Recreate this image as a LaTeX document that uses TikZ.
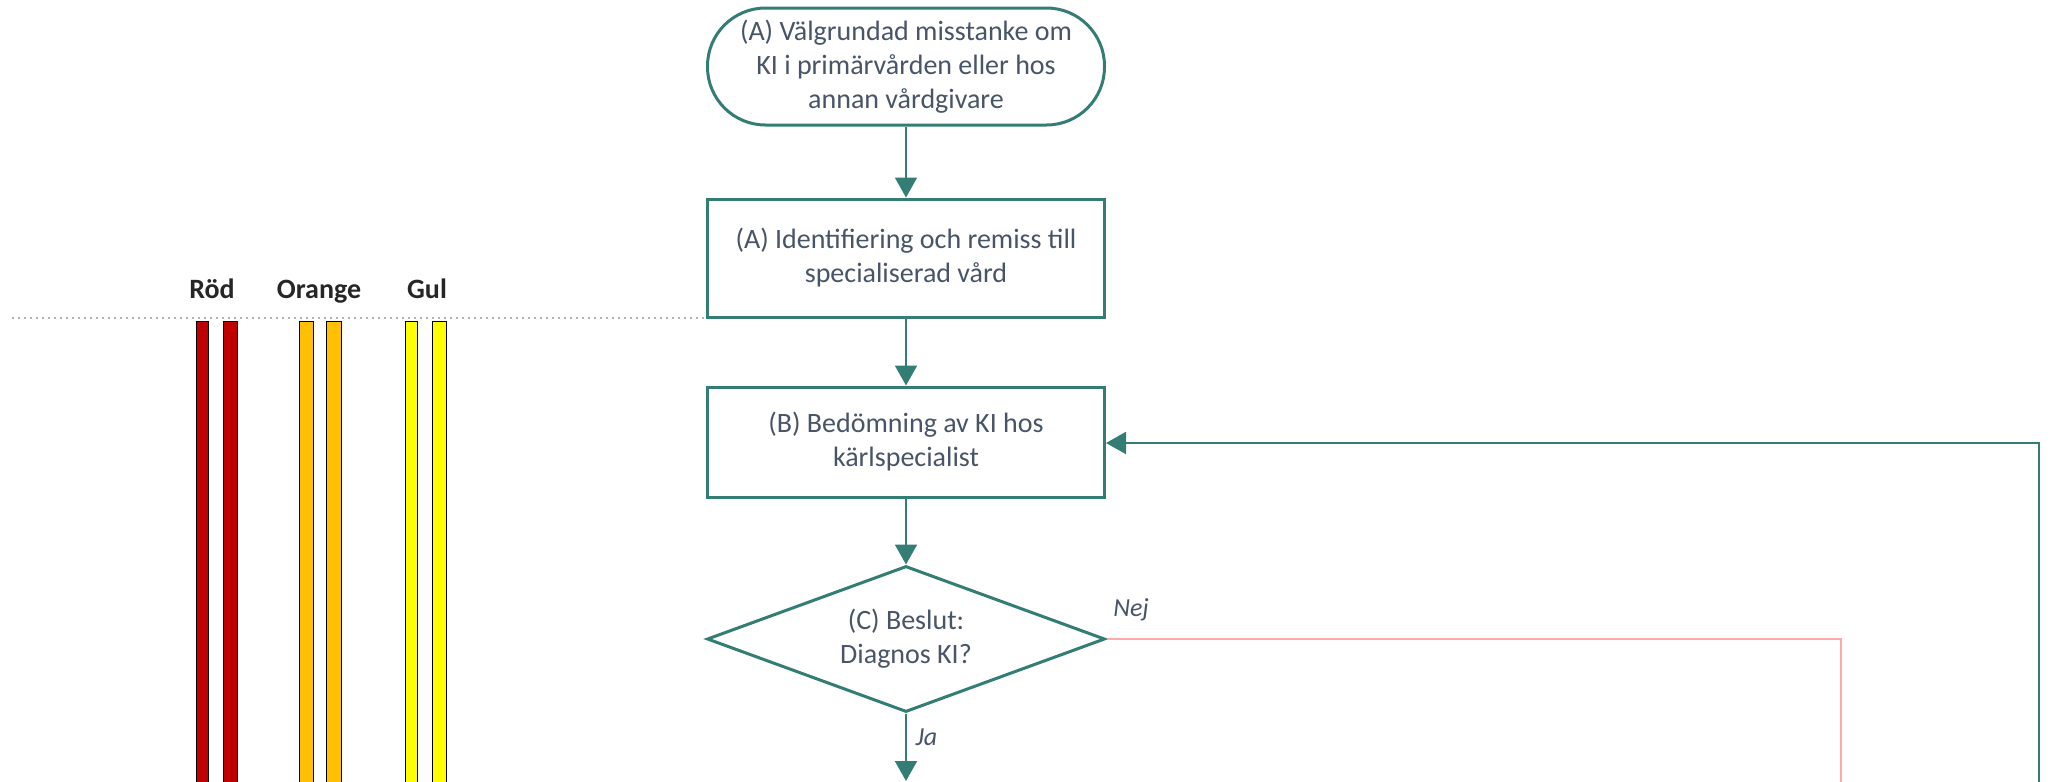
\documentclass[tikz,border=0pt]{standalone}
\usepackage{fontspec}
\setmainfont{Carlito}
\usetikzlibrary{arrows.meta,shapes.geometric}
\definecolor{teal}{RGB}{52,125,116}
\definecolor{txt}{RGB}{72,84,104}
\definecolor{pinkline}{RGB}{255,170,170}
\definecolor{rodc}{RGB}{192,0,0}
\definecolor{orac}{RGB}{255,192,0}
\definecolor{gulc}{RGB}{255,255,0}
\tikzset{
  box/.style={draw=teal, line width=3pt, fill=white, minimum width=397pt, minimum height=#1, inner sep=0pt, align=center, text=txt, font=\fontsize{28}{34}\selectfont},
  flow/.style={draw=teal, line width=2pt, -{Triangle[width=22pt,length=20pt]}},
  lbl/.style={text=txt, font=\fontsize{26}{30}\selectfont\itshape},
  bar/.style={draw=black, line width=0.8pt},
  head/.style={text=black!85, font=\fontsize{28}{32}\selectfont\bfseries, anchor=base}
}
\begin{document}
\begin{tikzpicture}[x=1pt,y=-1pt]
\useasboundingbox (0,0) rectangle (2057,782);
% dotted separator
\draw[gray!60, line width=2pt, dash pattern=on 2pt off 4pt] (12,318) -- (1104,318);
% colour bars
\node[head] (rod) at (212,298) {Röd};
\node[head] (ora) at (319,298) {Orange};
\node[head] (gul) at (427,298) {Gul};
\filldraw[bar, fill=rodc] (196,321) rectangle (208,790);
\filldraw[bar, fill=rodc] (223,321) rectangle (237,790);
\filldraw[bar, fill=orac] (299,321) rectangle (313,790);
\filldraw[bar, fill=orac] (326,321) rectangle (341,790);
\filldraw[bar, fill=gulc] (405,321) rectangle (417,790);
\filldraw[bar, fill=gulc] (432,321) rectangle (446,790);
% nodes
\node[box=117pt, rounded corners=58pt] (a1) at (906,66.5) {(A) Välgrundad misstanke om\\KI i primärvården eller hos\\annan vårdgivare};
\node[box=118pt] (a2) at (906,258) {(A) Identifiering och remiss till\\specialiserad vård};
\node[box=110pt] (b) at (906,442) {(B) Bedömning av KI hos\\kärlspecialist};
\node[box=146pt, shape=diamond, aspect=2.73, minimum width=398pt, minimum height=146pt] (c) at (906,639) {(C) Beslut:\\Diagnos KI?};
% connectors
\draw[flow] (a1.south) -- (a2.north);
\draw[flow] (a2.south) -- (b.north);
\draw[flow] (b.south) -- (c.north);
\coordinate (cdown) at (906,781);
\draw[flow] (c.south) -- (cdown);
\node[lbl, anchor=west] (ja) at (912,737) {Ja};
\coordinate (nejend) at (1841,790);
\draw[pinkline, line width=1.5pt] (c.east) -- (1841,639) -- (nejend);
\node[lbl] (nej) at (1131,610) {Nej};
\coordinate (fbstart) at (2039,790);
\draw[flow] (fbstart) -- (2039,443) -- (b.east |- 0,443);
\end{tikzpicture}
\end{document}
